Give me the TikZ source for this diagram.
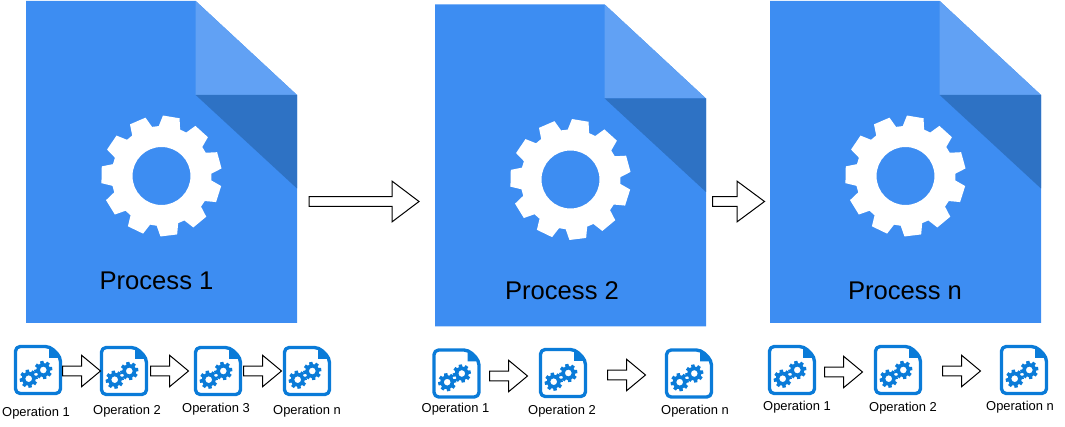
\documentclass[tikz,border=0pt]{standalone}
\usepackage{fontspec}
\setmainfont{Liberation Sans}
\usepackage{xcolor}
\usepackage{tikz}

\definecolor{docblue}{HTML}{3D8DF2}
\definecolor{foldlight}{HTML}{61A1F4}
\definecolor{folddark}{HTML}{2E72C4}
\definecolor{opblue}{HTML}{0A7BD8}

% colour, center, first tooth angle, teeth, root, tip, hole, half angle
\newcommand{\gearfill}[8]{%
  \fill[#1, even odd rule, shift={#2}] (#3-#8:#5)
    \foreach \i [evaluate=\i as \a using #3+\i*360/#4] in {0,...,\numexpr#4-1\relax} {
      -- (\a-#8:#5) -- (\a-#8+4.5:#6) -- (\a+#8-4.5:#6) -- (\a+#8:#5)
    } -- cycle (0,0) circle (#7);
}
% tail, length, head length, half head
\newcommand{\blockarrow}[4]{%
  \draw[black, fill=white, line width=0.75pt, line join=miter] #1 ++(0,-4.8)
    -- ++(#2-#3,0) -- ++(0,4.8-#4) -- ++(#3,#4) -- ++(-#3,#4)
    -- ++(0,4.8-#4) -- ++(#3-#2,0) -- cycle;
}

\tikzset{
  bigdoc/.pic={
    \fill[docblue] (0,0) -- (169.7,0) -- (271,94) -- (271,322) -- (0,322) -- cycle;
    \fill[foldlight] (169.7,0) -- (271,94) -- (169.7,94) -- cycle;
    \fill[folddark] (169.7,94) -- (271,94) -- (271,187.5) -- cycle;
    \gearfill{white}{(135.5,175)}{83}{11}{50}{60.5}{29}{12.5}
  },
  smalldoc/.pic={
    \draw[opblue, line width=2.5pt, rounded corners=3.5pt, line join=round]
      (1.5,1.5) -- (36,1.5) -- (46.5,12) -- (46.5,48.5) -- (1.5,48.5) -- cycle;
    \fill[opblue] (35,1.5) -- (46.5,13) -- (35,13) -- cycle;
    \gearfill{opblue}{(14.7,33.7)}{80}{8}{6.9}{9.2}{3.4}{15}
    \gearfill{opblue}{(29.3,25)}{80}{8}{6.9}{9.2}{3.4}{15}
  }
}

\begin{document}
\begin{tikzpicture}[
    x=0.75pt, y=-0.75pt,
    proclbl/.style={font=\fontsize{19.2pt}{22pt}\selectfont, inner sep=0pt},
    oplbl/.style={font=\fontsize{9.7pt}{11pt}\selectfont, inner sep=0pt, yshift=-1pt}
  ]
  \useasboundingbox (0,0) rectangle (1065,427);

  % Process documents
  \pic at (26,1) {bigdoc};
  \pic at (435,4.5) {bigdoc};
  \pic at (770,1) {bigdoc};
  \node[proclbl] (proc1) at (156.5,280.5) {Process 1};
  \node[proclbl] (proc2) at (562,290.5) {Process 2};
  \node[proclbl] (procn) at (905,290.5) {Process n};

  % Big arrows
  \blockarrow{(309,201.5)}{110}{27}{20.4}
  \blockarrow{(712.5,201.5)}{52}{27.5}{20.4}

  % Operation documents
  \foreach \x/\y in {14/345, 100/346, 194/346, 283/346,
                     432.5/348.5, 539/348, 665/348.5,
                     768/345, 874/345, 1000/345}
    \pic at (\x,\y) {smalldoc};

  % Small arrows
  \foreach \x/\y in {62.5/371, 150.5/371, 243.5/371,
                     489.5/376, 607.5/375,
                     824.5/372, 942.5/371}
    {\blockarrow{(\x,\y)}{38}{19}{15.8}}

  % Operation labels
  \foreach \name/\x/\y/\txt in {
      a/36/411.5/Operation 1, b/127/410/Operation 2, c/216/408/Operation 3, d/307/409.5/Operation n,
      e/455.5/408/Operation 1, f/562/410/Operation 2, g/695/410/Operation n,
      h/797/405.5/Operation 1, i/903/407/Operation 2, j/1020/406/Operation n}
    \node[oplbl] (op\name) at (\x,\y) {\txt};
\end{tikzpicture}
\end{document}
